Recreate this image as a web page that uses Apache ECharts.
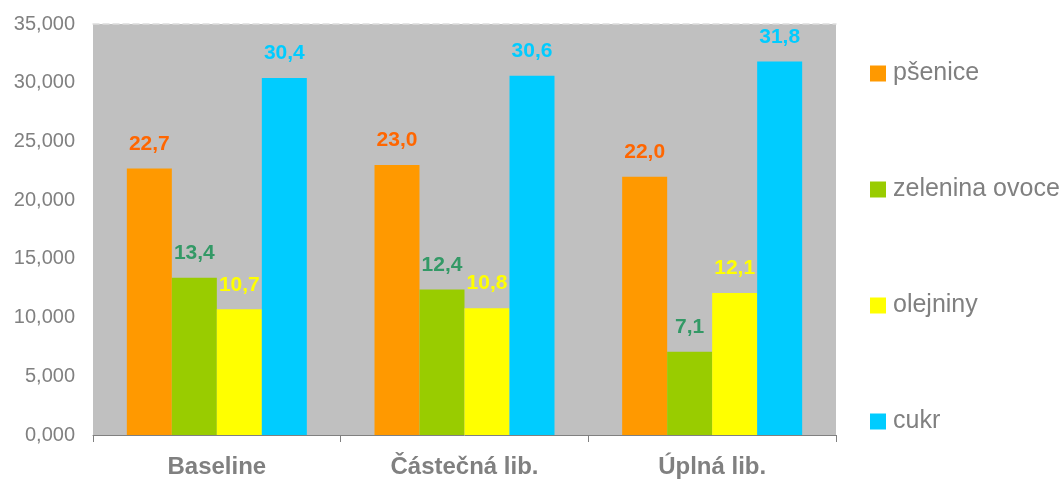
<!DOCTYPE html>
<html>
<head>
<meta charset="utf-8">
<script src="https://cdn.jsdelivr.net/npm/echarts@6/dist/echarts.min.js"></script>
<style>
  html, body { margin: 0; padding: 0; background: #fff; }
  #chart { width: 1064px; height: 481px; }
</style>
</head>
<body>
<div id="chart"></div>
<script>
// kategorie a hodnoty
var categories = ['Baseline', 'Částečná lib.', 'Úplná lib.']
var seriesNames = ['pšenice', 'zelenina ovoce', 'olejniny', 'cukr']
var psenice = [22.7, 23.0, 22.0]
var zelenina = [13.4, 12.4, 7.1]
var olejniny = [10.7, 10.8, 12.1]
var cukr = [30.4, 30.6, 31.8]

var barColors = ['#FF9900', '#99CC00', '#FFFF00', '#00CCFF']
var labelColors = ['#FF6600', '#339966', '#FFFF00', '#00CCFF']
var font = '"Liberation Sans", Arial, sans-serif'

function makeSeries (name, data, i) {
  return {
    name: name,
    type: 'bar',
    data: data,
    barWidth: 45,
    barGap: '0%',
    itemStyle: { color: barColors[i] },
    label: {
      show: true,
      position: 'top',
      distance: 14,
      color: labelColors[i],
      fontFamily: font,
      fontWeight: 'bold',
      fontSize: 21,
      formatter: function (p) { return p.value.toFixed(1).replace('.', ',') }
    }
  }
}

var option = {
  animation: false,
  backgroundColor: '#ffffff',
  grid: {
    left: 93,
    right: 228,
    top: 24,
    bottom: 46,
    show: true,
    backgroundColor: '#C0C0C0',
    borderWidth: 0
  },
  legend: {
    orient: 'vertical',
    left: 865,
    top: 56,
    itemWidth: 16,
    itemHeight: 16,
    itemGap: 91,
    icon: 'rect',
    textStyle: { color: '#808080', fontSize: 25, fontFamily: font, padding: [0, 0, 0, 2] },
    data: seriesNames
  },
  xAxis: [
    {
      type: 'category',
      data: categories,
      axisLine: { lineStyle: { color: '#808080', width: 1 } },
      axisTick: { show: true, length: 7, lineStyle: { color: '#808080' } },
      axisLabel: { color: '#808080', fontSize: 24, fontWeight: 'bold', fontFamily: font, margin: 20 }
    },
    {
      type: 'category',
      position: 'top',
      data: categories,
      axisLine: { show: true, lineStyle: { color: '#DDDDDD', type: [6, 4], width: 1.5 } },
      axisTick: { show: false },
      axisLabel: { show: false }
    }
  ],
  yAxis: {
    type: 'value',
    min: 0,
    max: 35,
    interval: 5,
    axisLine: { show: false },
    axisTick: { show: false },
    splitLine: { show: false },
    axisLabel: {
      color: '#808080',
      fontSize: 20,
      fontFamily: font,
      margin: 18,
      formatter: function (v) { return v.toFixed(3).replace('.', ',') }
    }
  },
  series: [
    makeSeries(seriesNames[0], psenice, 0),
    makeSeries(seriesNames[1], zelenina, 1),
    makeSeries(seriesNames[2], olejniny, 2),
    makeSeries(seriesNames[3], cukr, 3)
  ]
}

var myChart = echarts.init(document.getElementById('chart'))
myChart.setOption(option)
</script>
</body>
</html>
